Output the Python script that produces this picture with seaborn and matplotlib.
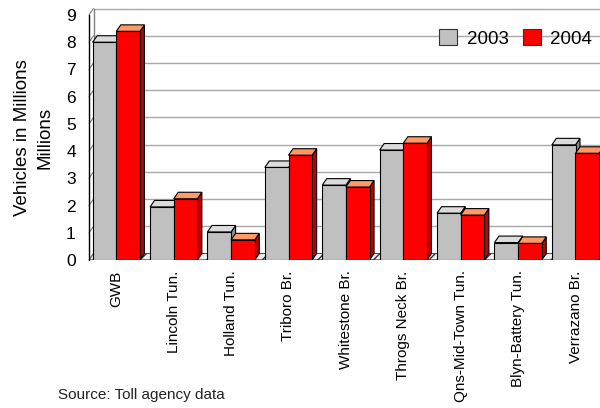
import numpy as np
import pandas as pd
import matplotlib
matplotlib.use("Agg")
import matplotlib.pyplot as plt
import seaborn as sns
from matplotlib.patches import Polygon, Patch

# data (millions of vehicles)
crossings = ["GWB", "Lincoln Tun.", "Holland Tun.", "Triboro Br.", "Whitestone Br.",
             "Throgs Neck Br.", "Qns-Mid-Town Tun.", "Blyn-Battery Tun.", "Verrazano Br."]
vehicles_2003 = [8.0, 1.95, 1.03, 3.4, 2.75, 4.04, 1.72, 0.64, 4.23]
vehicles_2004 = [8.4, 2.25, 0.74, 3.85, 2.68, 4.29, 1.65, 0.61, 3.92]
years = ["2003", "2004"]

front_colors = {"2003": "#c0c0c0", "2004": "#ff0000"}
top_colors = {"2003": "#dcdcdc", "2004": "#ff9966"}
side_colors = {"2003": "#8c8c8c", "2004": "#c00000"}

df = pd.DataFrame({
    "crossing": crossings * 2,
    "vehicles": vehicles_2003 + vehicles_2004,
    "year": [years[0]] * len(crossings) + [years[1]] * len(crossings),
})

sns.set_style("white")
plt.rcParams["font.family"] = ["Liberation Sans", "DejaVu Sans"]
plt.rcParams["text.color"] = "black"
plt.rcParams["xtick.color"] = "black"
plt.rcParams["ytick.color"] = "black"

W, H = 600, 408
fig = plt.figure(figsize=(W / 100, H / 100), dpi=100)
ax_l, ax_r, ax_b, ax_t = 89, 600, 260, 8
ax = fig.add_axes([ax_l / W, 1 - ax_b / H, (ax_r - ax_l) / W, (ax_b - ax_t) / H])

sns.barplot(data=df, x="crossing", y="vehicles", hue="year", palette=front_colors,
            width=0.824, saturation=1, edgecolor="black", linewidth=0.8,
            legend=False, ax=ax)

# axis scales (px per unit) from the reference
px_x, px_y = 57.4, 27.22
x0 = -(116.3 - ax_l) / px_x
x1 = x0 + (ax_r - ax_l) / px_x
y1 = (ax_b - ax_t) / px_y
ax.set_xlim(x0, x1)
ax.set_ylim(0, y1)
ddx, ddy = 4.5 / px_x, 6.5 / px_y

# 3d look: top and side faces for every bar
bars = sorted(ax.patches, key=lambda p: p.get_x())
for i, p in enumerate(bars):
    yr = "2004" if p.get_facecolor()[1] < 0.5 else "2003"
    bx0, bx1, h = p.get_x(), p.get_x() + p.get_width(), p.get_height()
    z = 3 + i * 0.01
    p.set_zorder(z)
    side = Polygon([(bx1, 0), (bx1, h), (bx1 + ddx, h + ddy), (bx1 + ddx, ddy)],
                   closed=True, facecolor=side_colors[yr], edgecolor="black",
                   linewidth=0.8, zorder=z - 0.005)
    top = Polygon([(bx0, h), (bx1, h), (bx1 + ddx, h + ddy), (bx0 + ddx, h + ddy)],
                  closed=True, facecolor=top_colors[yr], edgecolor="black",
                  linewidth=0.8, zorder=z - 0.005)
    ax.add_patch(side)
    ax.add_patch(top)

# floor, back wall grid and left wall
floor = Polygon([(x0, 0), (x1, 0), (x1 + ddx, ddy), (x0 + ddx, ddy)], closed=True,
                facecolor="#f0f0f0", edgecolor="#333333", hatch="///", linewidth=0.6,
                zorder=1, clip_on=True)
ax.add_patch(floor)
for k in range(10):
    ax.plot([x0 + ddx, x1], [k + ddy, k + ddy], color="#a8a8a8", lw=1, zorder=0.5)
    ax.plot([x0, x0 + ddx], [k, k + ddy], color="#808080", lw=0.8, zorder=2, clip_on=False)
ax.plot([x0, x0], [0, 9], color="black", lw=1, zorder=2, clip_on=False)
ax.plot([x0 + ddx, x0 + ddx], [ddy, 9 + ddy], color="#808080", lw=1, zorder=0.6)
ax.axhline(0, color="black", lw=1, zorder=2.5)

for s in ax.spines.values():
    s.set_visible(False)

ax.set_yticks(range(10))
ax.tick_params(axis="y", length=0, pad=9.5, labelsize=12.5)
ax.set_xticks(range(len(crossings)))
ax.set_xticklabels(crossings, rotation=90, fontsize=11)
ax.tick_params(axis="x", length=0, pad=7.5)
ax.set_xlabel("")
ax.set_ylabel("")

fig.text(33.5 / W, 1 - 137.5 / H, "Vehicles in Millions\nMillions", rotation=90,
         ha="center", va="center", fontsize=13.5, linespacing=1.4, multialignment="center")
fig.text(58 / W, 1 - 395 / H, "Source: Toll agency data", fontsize=11,
         ha="left", va="center", color="#222222")

handles = [Patch(facecolor=front_colors[y], edgecolor="#333333", linewidth=0.8) for y in years]
fig.legend(handles, years, loc="upper right", bbox_to_anchor=(592 / W, 1 - 29 / H),
           ncol=2, frameon=False, fontsize=13.5, handlelength=0.96, handleheight=0.96,
           handletextpad=0.5, columnspacing=0.75, borderpad=0, borderaxespad=0)

fig.savefig("out.png", dpi=100)
